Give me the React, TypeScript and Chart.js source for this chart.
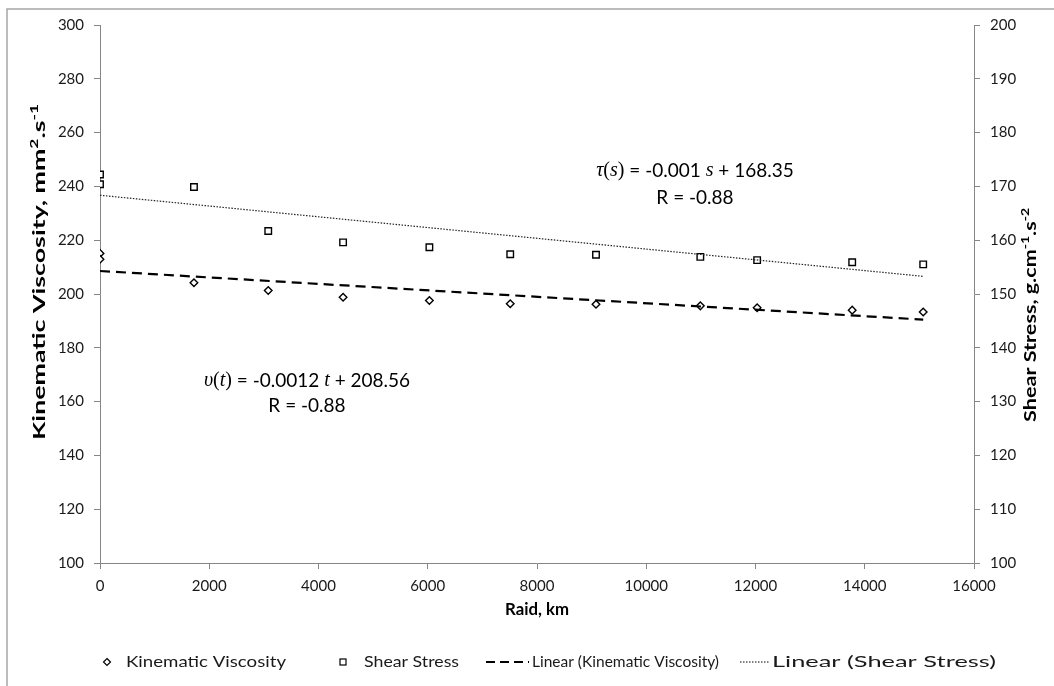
import React, { useEffect, useRef } from 'react';
import { Chart, registerables } from 'chart.js';

Chart.register(...registerables);

// ---------- data ----------
const raidKm = [0, 0, 1720, 3080, 4450, 6030, 7510, 9080, 10990, 12030, 13770, 15070];
const kinematicViscosity = [215.1, 212.9, 204.2, 201.3, 198.8, 197.6, 196.4, 196.2, 195.6, 194.9, 194.0, 193.3];
const shearStress = [172.2, 170.4, 169.9, 161.7, 159.6, 158.7, 157.4, 157.3, 156.9, 156.3, 155.9, 155.5];

const kvSlope = -0.0012;
const kvIntercept = 208.56;
const ssSlope = -0.001;
const ssIntercept = 168.35;

const xTickMin = 0, xTickMax = 16000, xTickStep = 2000;
const yLeftMin = 100, yLeftMax = 300, yLeftStep = 20;
const yRightMin = 100, yRightMax = 200, yRightStep = 10;

const legendLabels = ['Kinematic Viscosity', 'Shear Stress', 'Linear (Kinematic Viscosity)', 'Linear (Shear Stress)'];
const xTitle = 'Raid, km';

// ---------- styles ----------
const FONT = 'Lato';
const SERIF = '"Liberation Serif"';
const AXIS = '#868686';
const TEXT = '#1a1a1a';

type Run = { t: string; f: string; dy?: number };

// draws a row of text runs centred at (cx, cy); if fit is given the row is
// stretched along its direction to that length
function drawRuns(ctx: CanvasRenderingContext2D, runs: Run[], cx: number, cy: number, rot = 0, fit = 0) {
  ctx.save();
  ctx.translate(cx, cy);
  if (rot) ctx.rotate(rot);
  ctx.textBaseline = 'middle';
  ctx.textAlign = 'left';
  let total = 0;
  const ws = runs.map(r => { ctx.font = r.f; const w = ctx.measureText(r.t).width; total += w; return w; });
  if (fit) ctx.scale(fit / total, 1);
  let x = -total / 2;
  runs.forEach((r, i) => {
    ctx.font = r.f;
    ctx.fillText(r.t, x, r.dy || 0);
    x += ws[i];
  });
  ctx.restore();
}

function drawFitText(ctx: CanvasRenderingContext2D, text: string, x0: number, x1: number, y: number) {
  const w = ctx.measureText(text).width;
  ctx.save();
  ctx.translate(x0, y);
  ctx.scale((x1 - x0) / w, 1);
  ctx.fillText(text, 0, 0);
  ctx.restore();
}

const decorPlugin = {
  id: 'decor',
  afterDraw(chart: any) {
    const ctx: CanvasRenderingContext2D = chart.ctx;
    ctx.save();
    // outer chart border
    ctx.strokeStyle = '#a6a6a6';
    ctx.lineWidth = 1.5;
    ctx.beginPath();
    ctx.moveTo(7, 686);
    ctx.lineTo(7, 9);
    ctx.lineTo(1054, 9);
    ctx.stroke();

    ctx.fillStyle = '#000';
    // x title
    const B = `bold 17px ${FONT}`;
    const BS = `bold 11px ${FONT}`;
    drawRuns(ctx, [{ t: xTitle, f: B }], 537, 610, 0, 64);
    // left title
    drawRuns(ctx, [
      { t: 'Kinematic Viscosity, mm', f: B },
      { t: '2', f: BS, dy: -6 },
      { t: '.s', f: B },
      { t: '-1', f: BS, dy: -6 },
    ], 40, 272, -Math.PI / 2, 336);
    // right title
    drawRuns(ctx, [
      { t: 'Shear Stress, g.cm', f: B },
      { t: '-1', f: BS, dy: -6 },
      { t: '.s', f: B },
      { t: '-2', f: BS, dy: -6 },
    ], 1031, 315, -Math.PI / 2, 214);

    // equations
    const N = `19px ${FONT}`;
    const I = `italic 20px ${SERIF}`;
    const P = `20px ${SERIF}`;
    ctx.fillStyle = '#000';
    drawRuns(ctx, [
      { t: 'τ', f: I }, { t: '(', f: P }, { t: 's', f: I }, { t: ')', f: P },
      { t: ' = -0.001 ', f: N }, { t: 's', f: I }, { t: ' + 168.35', f: N },
    ], 695, 171);
    drawRuns(ctx, [{ t: 'R = -0.88', f: N }], 695, 198);
    drawRuns(ctx, [
      { t: 'υ', f: I }, { t: '(', f: P }, { t: 't', f: I }, { t: ')', f: P },
      { t: ' = -0.0012 ', f: N }, { t: 't', f: I }, { t: ' + 208.56', f: N },
    ], 307, 381);
    drawRuns(ctx, [{ t: 'R = -0.88', f: N }], 307, 406);

    // legend
    const ly = 662;
    ctx.font = `16px ${FONT}`;
    ctx.textBaseline = 'middle';
    ctx.textAlign = 'left';
    ctx.fillStyle = TEXT;
    ctx.strokeStyle = '#000';
    // diamond
    ctx.lineWidth = 1.2;
    ctx.beginPath();
    ctx.moveTo(107, ly - 3.5); ctx.lineTo(110.5, ly); ctx.lineTo(107, ly + 3.5); ctx.lineTo(103.5, ly); ctx.closePath();
    ctx.stroke();
    drawFitText(ctx, legendLabels[0], 126, 286, ly);
    // square
    ctx.strokeRect(340, ly - 3, 6, 6);
    drawFitText(ctx, legendLabels[1], 364, 459, ly);
    // dashed
    ctx.lineWidth = 2;
    ctx.setLineDash([9, 5]);
    ctx.beginPath(); ctx.moveTo(486, ly); ctx.lineTo(529, ly); ctx.stroke();
    ctx.setLineDash([]);
    drawFitText(ctx, legendLabels[2], 532, 719, ly);
    // dotted
    ctx.lineWidth = 1;
    ctx.setLineDash([1.5, 1.5]);
    ctx.beginPath(); ctx.moveTo(740, ly); ctx.lineTo(769, ly); ctx.stroke();
    ctx.setLineDash([]);
    drawFitText(ctx, legendLabels[3], 772, 996, ly);
    ctx.restore();
  },
};

export default function App() {
  const ref = useRef<HTMLCanvasElement>(null);
  useEffect(() => {
    if (!ref.current) return;
    const xMax = raidKm[raidKm.length - 1];
    const kvTrend = [
      { x: 0, y: kvIntercept },
      { x: xMax, y: kvIntercept + kvSlope * xMax },
    ];
    const ssTrend = [
      { x: 0, y: ssIntercept },
      { x: xMax, y: ssIntercept + ssSlope * xMax },
    ];
    const tickFont = { family: FONT, size: 15 };
    const chart = new Chart(ref.current, {
      type: 'scatter',
      data: {
        datasets: [
          {
            label: legendLabels[2],
            type: 'line',
            data: kvTrend,
            yAxisID: 'y',
            borderColor: '#000',
            borderWidth: 2.2,
            borderDash: [10, 6],
            pointRadius: 0,
            fill: false,
          },
          {
            label: legendLabels[3],
            type: 'line',
            data: ssTrend,
            yAxisID: 'y2',
            borderColor: '#222',
            borderWidth: 1.2,
            borderDash: [1.5, 1.5],
            pointRadius: 0,
            fill: false,
          },
          {
            label: legendLabels[0],
            data: raidKm.map((x, i) => ({ x, y: kinematicViscosity[i] })),
            yAxisID: 'y',
            pointStyle: 'rectRot',
            pointRadius: 3.8,
            pointBorderWidth: 1.4,
            borderColor: '#000',
            backgroundColor: '#fff',
          },
          {
            label: legendLabels[1],
            data: raidKm.map((x, i) => ({ x, y: shearStress[i] })),
            yAxisID: 'y2',
            pointStyle: 'rect',
            pointRadius: 4.6,
            pointBorderWidth: 1.4,
            borderColor: '#000',
            backgroundColor: '#fff',
          },
        ],
      },
      options: {
        responsive: false,
        animation: false,
        layout: { padding: { top: 25, left: 0, right: 0, bottom: 0 } },
        plugins: { legend: { display: false }, tooltip: { enabled: false } },
        scales: {
          x: {
            type: 'linear',
            min: xTickMin,
            max: xTickMax,
            ticks: { stepSize: xTickStep, font: tickFont, color: TEXT, padding: 8, maxRotation: 0, autoSkip: false, callback: (v: any) => String(v) },
            grid: { drawOnChartArea: false, tickLength: 6, color: AXIS },
            border: { color: AXIS, width: 1 },
            afterFit: (s: any) => { s.height = 123; },
          },
          y: {
            position: 'left',
            min: yLeftMin,
            max: yLeftMax,
            ticks: { stepSize: yLeftStep, font: tickFont, color: TEXT, padding: 10, callback: (v: any) => String(v) },
            grid: { drawOnChartArea: false, tickLength: 6, color: AXIS },
            border: { color: AXIS, width: 1 },
            afterFit: (s: any) => { s.width = 100; },
          },
          y2: {
            position: 'right',
            min: yRightMin,
            max: yRightMax,
            ticks: { stepSize: yRightStep, font: tickFont, color: TEXT, padding: 10, callback: (v: any) => String(v) },
            grid: { drawOnChartArea: false, tickLength: 6, color: AXIS },
            border: { color: AXIS, width: 1 },
            afterFit: (s: any) => { s.width = 80; },
          },
        },
      },
      plugins: [decorPlugin],
    } as any);
    return () => chart.destroy();
  }, []);
  return (
    <div style={{ position: 'absolute', left: 0, top: 0, width: 1054, height: 686, background: '#fff' }}>
      <canvas ref={ref} width={1054} height={686} style={{ display: 'block' }} />
    </div>
  );
}
